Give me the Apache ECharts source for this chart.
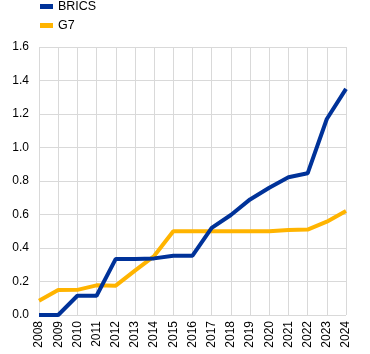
<!DOCTYPE html>
<html><head><meta charset="utf-8">
<script src="https://cdn.jsdelivr.net/npm/echarts@6/dist/echarts.min.js"></script>
<style>html,body{margin:0;padding:0;background:#fff}#c{width:370px;height:354px}</style>
</head><body><div id="c"></div>
<script>
var years = ['2008','2009','2010','2011','2012','2013','2014','2015','2016','2017','2018','2019','2020','2021','2022','2023','2024'];
var brics = [0.0,0.0,0.115,0.115,0.335,0.335,0.338,0.354,0.354,0.52,0.597,0.69,0.76,0.822,0.846,1.17,1.35];
var g7 = [0.085,0.149,0.15,0.177,0.175,0.265,0.352,0.50,0.50,0.50,0.50,0.50,0.50,0.507,0.51,0.557,0.621];
var yTicks = {min:0, max:1.6, interval:0.2};
var chart = echarts.init(document.getElementById('c'));
var font = 'Liberation Sans, Arial, sans-serif';
chart.setOption({
  animation:false,
  grid:{left:39,right:24,top:47,bottom:39,containLabel:false},
  legend:{orient:'vertical',left:40,top:0,padding:0,icon:'rect',itemWidth:13,itemHeight:5,itemGap:6,
    textStyle:{fontFamily:font,fontSize:12.5,color:'#000'},data:['BRICS','G7']},
  xAxis:{type:'category',data:years,boundaryGap:false,
    axisLine:{show:false},axisTick:{show:false},
    splitLine:{show:true,lineStyle:{color:'#d9d9d9',width:1}},
    axisLabel:{rotate:90,margin:6,fontFamily:font,fontSize:12,color:'#000',interval:0}},
  yAxis:{type:'value',min:yTicks.min,max:yTicks.max,interval:yTicks.interval,
    axisLine:{show:false},axisTick:{show:false},
    splitLine:{lineStyle:{color:'#d9d9d9',width:1}},
    axisLabel:{margin:10,fontFamily:font,fontSize:12,color:'#000',formatter:function(v){return v.toFixed(1);}}},
  series:[
    {name:'BRICS',type:'line',data:brics,symbol:'none',lineStyle:{width:4,color:'#003299'},itemStyle:{color:'#003299'},z:3},
    {name:'G7',type:'line',data:g7,symbol:'none',lineStyle:{width:4,color:'#ffb400'},itemStyle:{color:'#ffb400'},z:2}
  ]
});
</script></body></html>
